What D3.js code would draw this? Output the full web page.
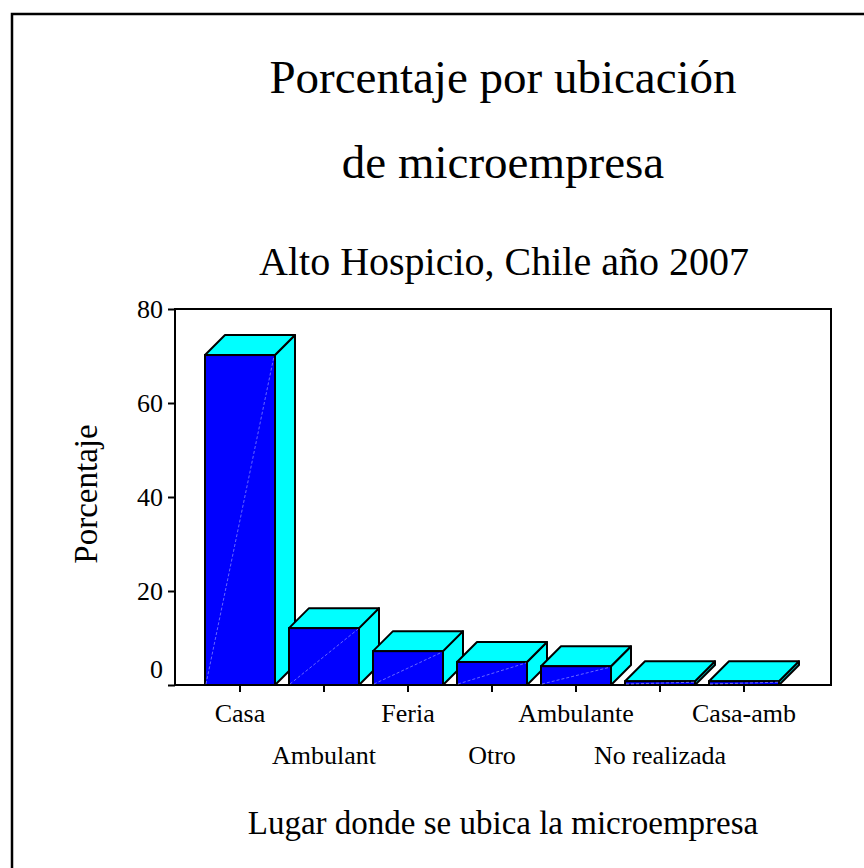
<!DOCTYPE html>
<html>
<head>
<meta charset="utf-8">
<script src="https://cdn.jsdelivr.net/npm/d3@7"></script>
<style>
  body { margin: 0; background: #fff; }
  text { font-family: "Liberation Serif", "Times New Roman", serif; fill: #000; }
</style>
</head>
<body>
<div id="chart"></div>
<script>
// datos
const categorias = ['Casa', 'Ambulant', 'Feria', 'Otro', 'Ambulante', 'No realizada', 'Casa-amb'];
const porcentajes = [70.2, 12.1, 7.2, 4.9, 4.0, 0.8, 0.8];
const yTicks = [0, 20, 40, 60, 80];
const titulos = ['Porcentaje por ubicación', 'de microempresa'];
const subtitulo = 'Alto Hospicio, Chile año 2007';

const width = 864, height = 868;
const plot = { left: 175, top: 309, right: 831, bottom: 685 };
const depth = 20; // profundidad 3D

const svg = d3.select('#chart').append('svg')
  .attr('width', width)
  .attr('height', height);

// marco exterior
svg.append('rect')
  .attr('x', 12).attr('y', 14)
  .attr('width', 900).attr('height', 900)
  .attr('fill', 'none').attr('stroke', '#000').attr('stroke-width', 2.5);

// títulos
svg.selectAll('.titulo')
  .data(titulos)
  .enter()
  .append('text')
  .attr('class', 'titulo')
  .attr('x', 503)
  .attr('y', (d, i) => 93 + i * 85)
  .attr('text-anchor', 'middle')
  .attr('font-size', 47)
  .text(d => d);

svg.append('text')
  .attr('x', 504).attr('y', 275)
  .attr('text-anchor', 'middle')
  .attr('font-size', 40)
  .text(subtitulo);

// escalas
const x = d3.scaleBand()
  .domain(categorias)
  .range([198, 786])
  .paddingInner(1 / 6)
  .paddingOuter(1 / 12);

const y = d3.scaleLinear()
  .domain([0, 80])
  .range([plot.bottom, plot.top]);

// marco del gráfico
svg.append('rect')
  .attr('x', plot.left).attr('y', plot.top)
  .attr('width', plot.right - plot.left)
  .attr('height', plot.bottom - plot.top)
  .attr('fill', 'none').attr('stroke', '#000').attr('stroke-width', 2);

// eje y
const yAxis = svg.append('g')
  .attr('transform', `translate(${plot.left},0)`)
  .call(d3.axisLeft(y).tickValues(yTicks).tickSize(7).tickPadding(5));
yAxis.select('.domain').remove();
yAxis.selectAll('line').attr('stroke-width', 2);
yAxis.selectAll('text')
  .attr('font-size', 26)
  .attr('font-family', '"Liberation Serif", serif')
  .attr('dy', d => d === 0 ? '-0.3em' : '0.32em'); // el 0 va un poco más arriba

// eje x
const xAxis = svg.append('g')
  .attr('transform', `translate(0,${plot.bottom})`)
  .call(d3.axisBottom(x).tickSize(7));
xAxis.select('.domain').remove();
xAxis.selectAll('line').attr('stroke-width', 2);
xAxis.selectAll('text')
  .attr('font-size', 26)
  .attr('font-family', '"Liberation Serif", serif')
  .attr('y', (d, i) => i % 2 === 0 ? 37 : 79)
  .attr('dy', 0);

// barras 3D
const barras = svg.selectAll('.barra')
  .data(porcentajes)
  .enter()
  .append('g')
  .attr('class', 'barra');

const x0 = (d, i) => x(categorias[i]);
const x1 = (d, i) => x(categorias[i]) + x.bandwidth();

// lado
barras.append('path')
  .attr('d', (d, i) => {
    const a = x1(d, i), t = y(d), b = y(0);
    return `M${a},${t}L${a + depth},${t - depth}L${a + depth},${b - depth}L${a},${b}Z`;
  })
  .attr('fill', '#00ffff').attr('stroke', '#000').attr('stroke-width', 2)
  .attr('stroke-linejoin', 'round');

// techo
barras.append('path')
  .attr('d', (d, i) => {
    const a = x0(d, i), c = x1(d, i), t = y(d);
    return `M${a},${t}L${a + depth},${t - depth}L${c + depth},${t - depth}L${c},${t}Z`;
  })
  .attr('fill', '#00ffff').attr('stroke', '#000').attr('stroke-width', 2)
  .attr('stroke-linejoin', 'round');

// frente
barras.append('rect')
  .attr('x', (d, i) => x0(d, i))
  .attr('y', d => y(d))
  .attr('width', x.bandwidth())
  .attr('height', d => y(0) - y(d))
  .attr('fill', '#0000ff').attr('stroke', '#000').attr('stroke-width', 2);

// línea diagonal tenue del frente
barras.append('line')
  .attr('x1', (d, i) => x0(d, i) + 1)
  .attr('y1', y(0) - 1)
  .attr('x2', (d, i) => x1(d, i) - 1)
  .attr('y2', d => y(d) + 1)
  .attr('stroke', '#8080ff').attr('stroke-width', 0.8).attr('stroke-dasharray', '3,2');

// rótulos de ejes
svg.append('text')
  .attr('transform', 'translate(97,494) rotate(-90)')
  .attr('text-anchor', 'middle')
  .attr('font-size', 33)
  .text('Porcentaje');

svg.append('text')
  .attr('x', 503).attr('y', 834)
  .attr('text-anchor', 'middle')
  .attr('font-size', 33)
  .text('Lugar donde se ubica la microempresa');
</script>
</body>
</html>
